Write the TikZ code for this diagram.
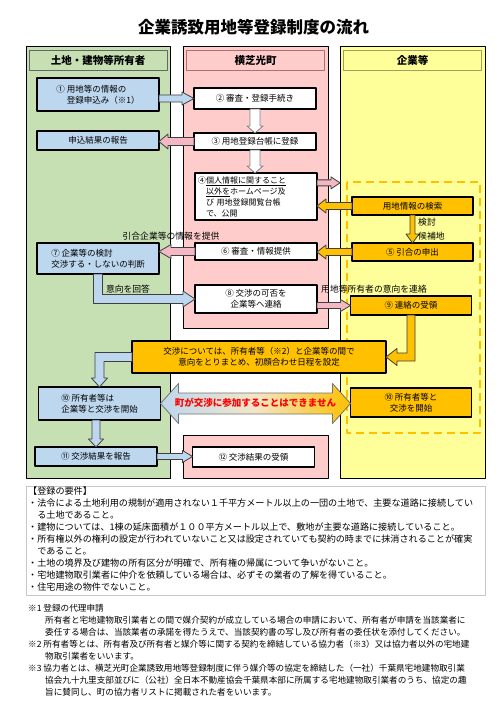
\documentclass[tikz,border=0pt]{standalone}
\usepackage{fontspec}
\setmainfont{Noto Sans CJK JP}
\usetikzlibrary{calc}
\definecolor{greenfill}{HTML}{C6E0B4}
\definecolor{bluefill}{HTML}{BDD7EE}
\definecolor{pinkfill}{HTML}{FFCCCC}
\definecolor{arrowpink}{HTML}{F4B8C4}
\definecolor{yellowfill}{HTML}{FFFF99}
\definecolor{orangefill}{HTML}{FFC000}
\definecolor{midshade}{HTML}{F2E6C8}
\definecolor{reqline}{HTML}{C8C8C8}
\definecolor{pinkline}{HTML}{B07070}
\definecolor{yellowline}{HTML}{A0A060}
\newcommand{\boxfont}{\fontsize{8.5}{11}\selectfont}
% 矢印の寸法
\tikzset{aw/.store in=\aw, aW/.store in=\aW, aL/.store in=\aL,
  aw=3.5pt, aW=7pt, aL=10pt}
% 横向きの矢印
\newcommand{\harr}[3]{%
  \path[#1] let \p1=(#2), \p2=(#3), \n1={(\x2-\x1)/abs(\x2-\x1)} in
    (\x1,{\y1+\aw}) -- ({\x2-(\n1)*\aL},{\y1+\aw}) -- ({\x2-(\n1)*\aL},{\y1+\aW}) -- (\x2,\y1)
    -- ({\x2-(\n1)*\aL},{\y1-\aW}) -- ({\x2-(\n1)*\aL},{\y1-\aw}) -- (\x1,{\y1-\aw}) -- cycle;}
% 縦向きの矢印
\newcommand{\varr}[3]{%
  \path[#1] let \p1=(#2), \p2=(#3), \n1={(\y2-\y1)/abs(\y2-\y1)} in
    ({\x1+\aw},\y1) -- ({\x1+\aw},{\y2-(\n1)*\aL}) -- ({\x1+\aW},{\y2-(\n1)*\aL}) -- (\x1,\y2)
    -- ({\x1-\aW},{\y2-(\n1)*\aL}) -- ({\x1-\aw},{\y2-(\n1)*\aL}) -- ({\x1-\aw},\y1) -- cycle;}
% 縦から横へ折れる矢印
\newcommand{\vharr}[3]{%
  \path[#1] let \p1=(#2), \p2=(#3), \n1={(\x2-\x1)/abs(\x2-\x1)},
    \n2={(\y2-\y1)/abs(\y2-\y1)} in
    ({\x1-(\n1)*\aw},\y1) -- ({\x1-(\n1)*\aw},{\y2+(\n2)*\aw}) -- ({\x2-(\n1)*\aL},{\y2+(\n2)*\aw})
    -- ({\x2-(\n1)*\aL},{\y2+(\n2)*\aW}) -- (\x2,\y2) -- ({\x2-(\n1)*\aL},{\y2-(\n2)*\aW})
    -- ({\x2-(\n1)*\aL},{\y2-(\n2)*\aw}) -- ({\x1+(\n1)*\aw},{\y2-(\n2)*\aw}) -- ({\x1+(\n1)*\aw},\y1) -- cycle;}
% 横から縦へ折れる矢印
\newcommand{\hvarr}[3]{%
  \path[#1] let \p1=(#2), \p2=(#3), \n1={(\x2-\x1)/abs(\x2-\x1)},
    \n2={(\y2-\y1)/abs(\y2-\y1)} in
    (\x1,{\y1-(\n2)*\aw}) -- ({\x2+(\n1)*\aw},{\y1-(\n2)*\aw}) -- ({\x2+(\n1)*\aw},{\y2-(\n2)*\aL})
    -- ({\x2+(\n1)*\aW},{\y2-(\n2)*\aL}) -- (\x2,\y2) -- ({\x2-(\n1)*\aW},{\y2-(\n2)*\aL})
    -- ({\x2-(\n1)*\aw},{\y2-(\n2)*\aL}) -- ({\x2-(\n1)*\aw},{\y1+(\n2)*\aw}) -- (\x1,{\y1+(\n2)*\aw}) -- cycle;}
\begin{document}
\begin{tikzpicture}[x=1pt, y=-1pt, line join=round,
  colbox/.style={draw, line width=1pt, inner sep=0pt, outer sep=0pt},
  hdr/.style={draw=#1, line width=0.6pt, inner sep=0pt, outer sep=0pt,
    minimum width=138, minimum height=20, font=\fontsize{10.5}{12}\selectfont\bfseries},
  box/.style={draw, line width=1.2pt, inner sep=1pt, outer sep=0pt, font=\boxfont, align=center},
  bluebox/.style={box, fill=bluefill, minimum width=122, minimum height=#1},
  whitebox/.style={box, fill=white, minimum width=122, minimum height=#1},
  orgbox/.style={box, fill=orangefill, minimum width=121, minimum height=#1},
  lbl/.style={inner sep=0pt, font=\fontsize{8.8}{11}\selectfont},
  bluearr/.style={draw=black!75, fill=bluefill, line width=0.8pt, aw=3.5pt, aW=6.5pt, aL=12pt},
  pinkarr/.style={draw=black!75, fill=arrowpink, line width=0.8pt, aw=3.5pt, aW=7pt, aL=10pt},
  orgarr/.style={draw=black!75, fill=orangefill, line width=0.8pt, aw=3.5pt, aW=7pt, aL=9pt},
  whitearr/.style={draw=gray, fill=white, line width=0.8pt, aw=5pt, aW=8pt, aL=7pt}]
\useasboundingbox (0,0) rectangle (500,722);
\fill[white] (0,0) rectangle (500,722);
% 表題
\node[font=\fontsize{16.5}{20}\selectfont\bfseries] (title) at (253.5,27) {企業誘致用地等登録制度の流れ};
% 三つの列
\node[colbox, fill=greenfill, minimum width=144, minimum height=431] (gcol) at (98,262.5) {};
\node[colbox, fill=pinkfill, minimum width=145, minimum height=281] (pcol) at (255.5,187.5) {};
\node[colbox, fill=pinkfill, minimum width=145, minimum height=43] (pcolb) at (255.5,456.5) {};
\node[colbox, fill=yellowfill, minimum width=145, minimum height=431] (ycol) at (412.5,262.5) {};
\node[hdr=black!60] (ghead) at (98,60.5) {土地・建物等所有者};
\node[hdr=pinkline] (phead) at (255.5,60.5) {横芝光町};
\node[hdr=yellowline] (yhead) at (412.5,60.5) {企業等};
\draw[orangefill, line width=2pt, dash pattern=on 8pt off 5pt] (347,182) rectangle (480,433);
% 所有者側
\node[bluebox=33, align=left] (b1) at (98,94.5) {① 用地等の情報の\\\phantom{① }登録申込み（※1）};
\node[bluebox=19] (brep) at (98,140.5) {申込結果の報告};
\node[bluebox=31, align=left] (b7) at (98,258.5) {⑦ 企業等の検討\\交渉する・しないの判断};
\node[bluebox=33, align=left] (g10) at (99.5,403.5) {⑩ 所有者等は\\企業等と交渉を開始};
\node[bluebox=19] (b11) at (96,456.5) {⑪ 交渉結果を報告};
% 町側
\node[whitebox=21] (b2) at (255,98.5) {② 審査・登録手続き};
\node[whitebox=17] (b3) at (255,141.5) {③ 用地登録台帳に登録};
\node[whitebox=47, align=left, text width=116, inner xsep=3pt, font=\fontsize{8}{11}\selectfont] (b4) at (256,196.5)
  {④\underline{個人情報に関すること}\\\phantom{④}\underline{以外を}ホームページ及\\\phantom{④}び 用地登録閲覧台帳\\\phantom{④}で、公開};
\node[whitebox=17] (b6) at (256,251.5) {⑥ 審査・情報提供};
\node[whitebox=28] (b8) at (256,299) {⑧ 交渉の可否を\\企業等へ連絡};
\node[whitebox=20] (b12) at (253.5,457) {⑫ 交渉結果の受領};
% 企業側
\node[orgbox=18] (ysearch) at (412.5,206) {用地情報の検索};
\node[orgbox=18] (b5) at (412.5,252) {⑤ 引合の申出};
\node[orgbox=19] (b9) at (411,305.5) {⑨ 連絡の受領};
\node[orgbox=29] (y10) at (411,402.5) {⑩ 所有者等と\\交渉を開始};
\node[box, fill=orangefill, minimum width=254, minimum height=32] (wide) at (259,357)
  {交渉については、所有者等（※2）と企業等の間で\\意向をとりまとめ、初顔合わせ日程を設定};
% 矢印
\harr{bluearr}{b1.east |- b2}{b2.west}
\harr{pinkarr, aw=4pt, aW=7.5pt, aL=9pt}{b3.west}{brep.east}
\varr{whitearr}{b2.south}{b3.north}
\varr{whitearr}{b3.south}{b4.north}
\harr{pinkarr, aw=3pt, aW=6pt, aL=9pt}{$(b4.north east)!0.21!(b4.south east)$}{ycol.west}
\harr{orgarr}{ysearch.west}{b4.east}
\varr{orgarr, aw=2.5pt, aW=6.5pt}{ysearch.south}{b5.north}
\harr{orgarr}{b5.west}{b6.east}
\harr{pinkarr, aw=4pt, aL=12pt}{b6.west}{b7.east}
\vharr{bluearr, aw=4.5pt, aW=8pt}{b7.south}{b8.west}
\harr{pinkarr, aw=3pt, aW=6pt}{b8.east |- b9}{b9.west}
\vharr{orgarr, aw=4pt, aW=8.5pt, aL=11pt}{b9.south}{wide.east}
\hvarr{bluearr, aw=4.5pt, aW=8pt, aL=9pt}{wide.west}{g10.north}
\varr{bluearr, aw=4pt, aW=7.5pt, aL=8pt}{g10.south -| b11}{b11.north}
\harr{bluearr, aw=3pt, aW=6pt, aL=10pt}{b11.east}{b12.west}
% 矢印のラベル
\node[lbl] (lbl67) at (171,236) {引合企業等の情報を提供};
\node[lbl] (lbl78) at (128,289) {意向を回答};
\node[lbl] (lbl89) at (374,289) {用地等所有者の意向を連絡};
\node[lbl, anchor=west] (lblexam) at (418,222) {検討};
\node[lbl, anchor=west] (lblcand) at (418,236) {候補地};
% 町は交渉に参加しない
\path[draw=black!55, line width=0.8pt, left color=bluefill, right color=orangefill, middle color=midshade]
  let \p1=(g10.east), \p2=(y10.west) in
  (\x1,\y1) -- ({\x1+18pt},{\y1+20pt}) -- ({\x1+18pt},{\y1+10.5pt}) -- ({\x2-18pt},{\y1+10.5pt})
  -- ({\x2-18pt},{\y1+20pt}) -- (\x2,\y1) -- ({\x2-18pt},{\y1-20pt}) -- ({\x2-18pt},{\y1-10.5pt})
  -- ({\x1+18pt},{\y1-10.5pt}) -- ({\x1+18pt},{\y1-20pt}) -- cycle;
\node[font=\fontsize{9.5}{11}\selectfont\bfseries, text=red, inner sep=0pt] (nopart)
  at ($(g10.east)!0.5!(y10.west)$) {町が交渉に参加することはできません};
% 登録の要件
\node[draw=reqline, line width=0.8pt, anchor=north west, inner sep=0pt, outer sep=0pt,
  minimum width=459, minimum height=109] (reqbox) at (26,486) {};
\node[anchor=north west, inner sep=0pt, align=left, font=\fontsize{9.1}{11.9}\selectfont] (reqtext) at (28,487)
  {【登録の要件】\\
   ・法令による土地利用の規制が適用されない１千平方メートル以上の一団の土地で、主要な道路に接続してい\\
   \phantom{・}る土地であること。\\
   ・建物については、1棟の延床面積が１００平方メートル以上で、敷地が主要な道路に接続していること。\\
   ・所有権以外の権利の設定が行われていないこと又は設定されていても契約の時までに抹消されることが確実\\
   \phantom{・}であること。\\
   ・土地の境界及び建物の所有区分が明確で、所有権の帰属について争いがないこと。\\
   ・宅地建物取引業者に仲介を依頼している場合は、必ずその業者の了解を得ていること。\\
   ・住宅用途の物件でないこと。};
% 注記
\node[anchor=north west, inner sep=0pt, align=left, font=\fontsize{8.6}{11.9}\selectfont] (notes) at (28,604.5)
  {※1 登録の代理申請\\
   \hspace*{17pt}所有者と宅地建物取引業者との間で媒介契約が成立している場合の申請において、所有者が申請を当該業者に\\
   \hspace*{17pt}委任する場合は、当該業者の承諾を得たうえで、当該契約書の写し及び所有者の委任状を添付してください。\\
   ※2 所有者等とは、所有者及び所有者と媒介等に関する契約を締結している協力者（※3）又は協力者以外の宅地建\\
   \hspace*{17pt}物取引業者をいいます。\\
   ※3 協力者とは、横芝光町企業誘致用地等登録制度に伴う媒介等の協定を締結した（一社）千葉県宅地建物取引業\\
   \hspace*{17pt}協会九十九里支部並びに（公社）全日本不動産協会千葉県本部に所属する宅地建物取引業者のうち、協定の趣\\
   \hspace*{17pt}旨に賛同し、町の協力者リストに掲載された者をいいます。};
\end{tikzpicture}
\end{document}
